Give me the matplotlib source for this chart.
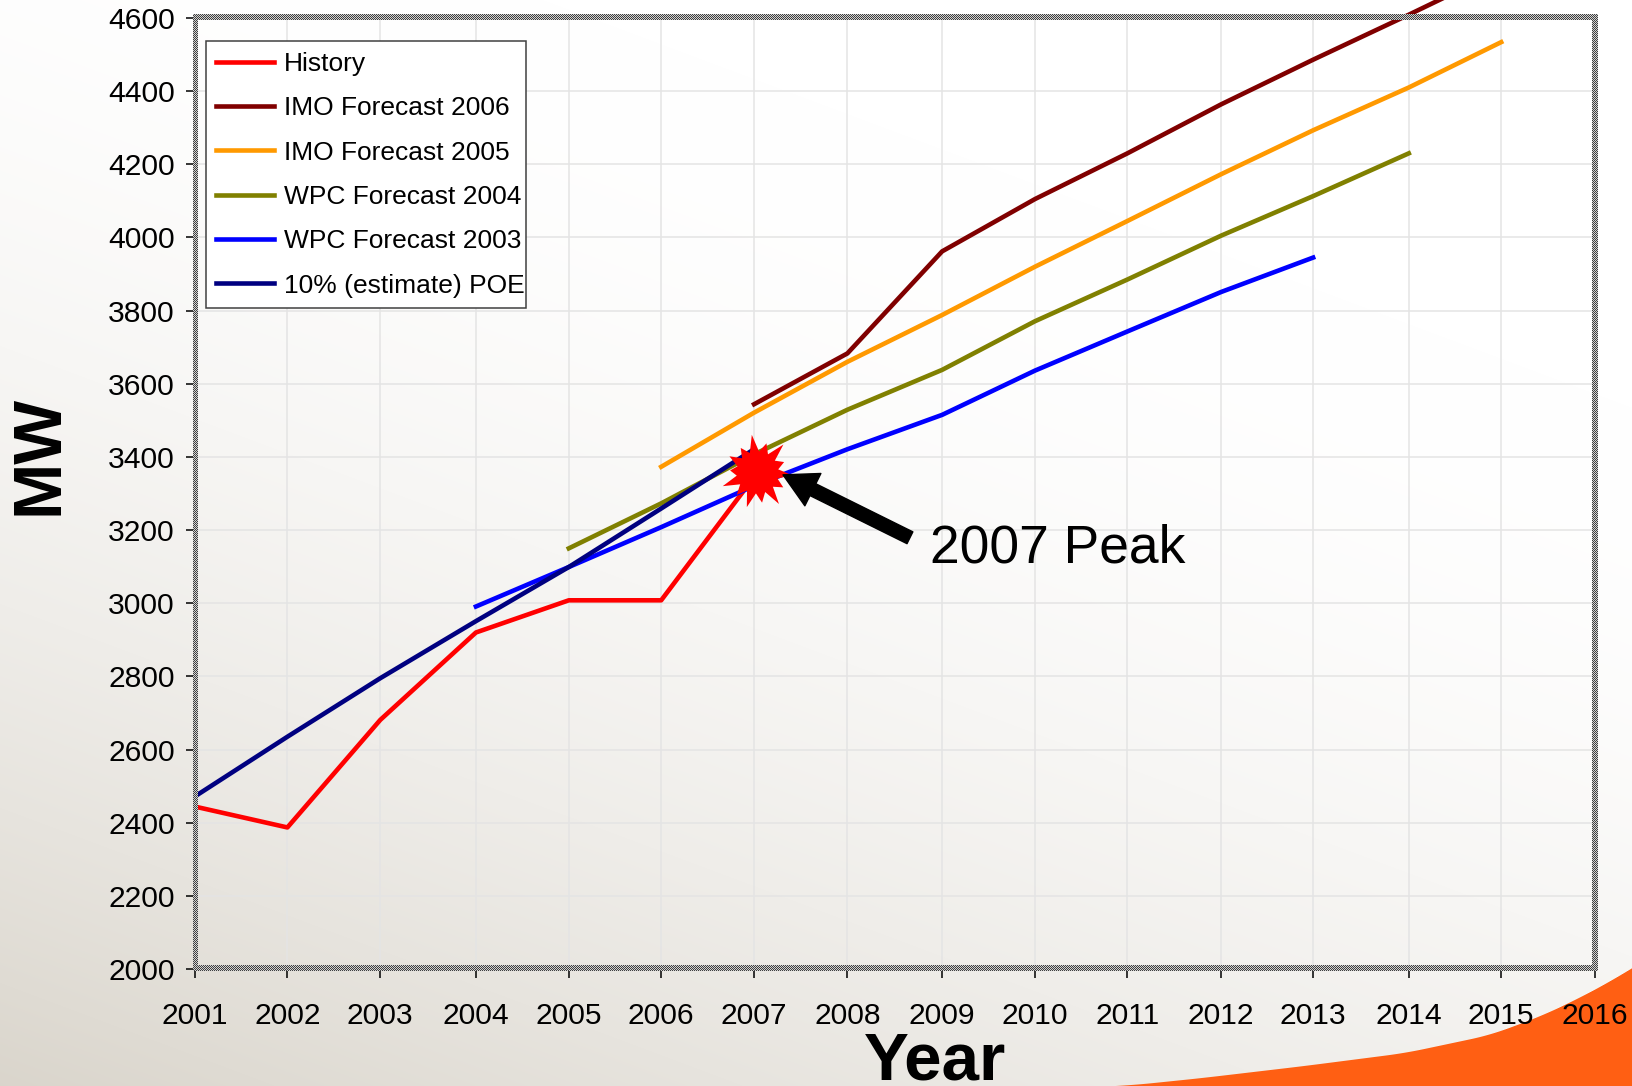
import numpy as np
import matplotlib
matplotlib.use("Agg")
import matplotlib.pyplot as plt
from matplotlib.patches import Rectangle
from matplotlib.path import Path

# DATOS
tick_years = [2001, 2001.99, 2002.985, 2004.01, 2005.005, 2005.995, 2006.99, 2007.99,
              2009.005, 2010, 2010.99, 2011.995, 2012.98, 2014.005, 2014.995, 2016]
tick_labels = [str(a) for a in range(2001, 2017)]
y_ticks = list(range(2000, 4601, 200))

history = [2444, 2387, 2681, 2920, 3008, 3008, 3345]
imo_2006 = [3544, 3683, 3962, 4105, 4230, 4364, 4486, 4609, 4731]
imo_2005 = [3373, 3521, 3660, 3788, 3920, 4045, 4173, 4293, 4410, 4534]
wpc_2004 = [3150, 3273, 3407, 3529, 3638, 3771, 3885, 4005, 4113, 4230]
wpc_2003 = [2991, 3099, 3208, 3321, 3421, 3515, 3636, 3743, 3851, 3945]
poe_10 = [2472, 2635, 2795, 2951, 3099, 3259, 3421]

peak_x = 2007.02
peak_y = 3360

W, H = 1632, 1086
L, R, T, B = 195, 1595, 18, 969

# FONDO
yy, xx = np.mgrid[0:H, 0:W]
t = np.clip((yy / H) * 0.8 + (1 - xx / W) * 0.45 - 0.3, 0, 1) ** 1.8
blanco = np.array([1.0, 1.0, 1.0])
beige = np.array([0.84, 0.82, 0.78])
fondo = blanco + (beige - blanco) * t[..., None]

# curva naranja de abajo a la derecha
curva_x = [1040, 1134, 1202, 1304, 1405, 1490, 1541, 1575, 1609, 1632, 1660]
curva_y = [1089, 1084, 1077, 1065, 1052, 1034, 1015, 999, 981, 967, 950]
todas_x = np.arange(W + 40)
perfil = np.interp(todas_x, curva_x, curva_y, left=1100)
perfil = np.convolve(np.pad(perfil, 20, mode="edge"), np.ones(41) / 41, mode="valid")
borde = perfil[xx]
alfa = np.clip(yy - borde, 0, 1)[..., None]
fondo = fondo * (1 - alfa) + np.array([1.0, 0.376, 0.075]) * alfa

# MARCO A CUADROS
marco = np.zeros((H, W, 4))
mascara = np.zeros((H, W), dtype=bool)
mascara[14:20, 193:1598] = True
mascara[965:971, 193:1598] = True
mascara[14:971, 193:198] = True
mascara[14:971, 1592:1598] = True
cuadros = ((xx + yy) % 2 == 0)
marco[..., :3] = np.where(cuadros[..., None], 0.25, 0.82)
marco[..., 3] = mascara

plt.rcParams["font.family"] = ["Liberation Sans", "DejaVu Sans"]

fig = plt.figure(figsize=(W / 100, H / 100), dpi=100)
fig.figimage(fondo, 0, 0, origin="upper", zorder=-5)
ax = fig.add_axes([L / W, (H - B) / H, (R - L) / W, (B - T) / H])
ax.patch.set_visible(False)

ax.plot(tick_years[:7], history, color="#ff0000", lw=3.3, label="History", zorder=3)
ax.plot(tick_years[6:15], imo_2006, color="#800000", lw=3.3, label="IMO Forecast 2006", zorder=3, clip_on=False)
ax.plot(tick_years[5:15], imo_2005, color="#ff9900", lw=3.3, label="IMO Forecast 2005", zorder=3)
ax.plot(tick_years[4:14], wpc_2004, color="#808000", lw=3.3, label="WPC Forecast 2004", zorder=3)
ax.plot(tick_years[3:13], wpc_2003, color="#0000ff", lw=3.3, label="WPC Forecast 2003", zorder=3)
ax.plot(tick_years[:7], poe_10, color="#000080", lw=3.3, label="10% (estimate) POE", zorder=3)

ax.set_xlim(2001, 2016)
ax.set_ylim(2000, 4600)
ax.set_xticks(tick_years)
ax.set_xticklabels(tick_labels)
ax.set_yticks(y_ticks)
ax.tick_params(axis="both", labelsize=21.6, length=6.5, width=1.1, color="black")
ax.tick_params(axis="x", pad=17.5)
ax.tick_params(axis="y", pad=8)
ax.grid(True, color="#e4e4e4", lw=1.1)
ax.set_axisbelow(True)
for lado in ax.spines.values():
    lado.set_visible(False)

# Pico de 2007: estrella irregular de 14 puntas
radios = [1.0, 0.55, 0.78, 0.55, 0.85, 0.55, 0.72, 0.55, 0.98, 0.55, 0.8, 0.55, 0.95, 0.55,
          0.8, 0.55, 1.0, 0.55, 0.78, 0.55, 0.9, 0.55, 0.75, 0.55, 1.0, 0.55, 0.8, 0.55]
angulos = np.pi / 2 + 0.15 + np.arange(len(radios)) * 2 * np.pi / len(radios)
vertices = np.column_stack([np.cos(angulos) * radios, np.sin(angulos) * radios])
estrella = Path(np.vstack([vertices, vertices[0]]), closed=True)
ax.plot([peak_x], [peak_y], marker=estrella, markersize=46 * 1.18, color="#ff0000", mew=0, zorder=5, ls="none")
ax.annotate("", xy=(2007.30, 3351), xytext=(2008.66, 3179),
            arrowprops=dict(facecolor="black", edgecolor="black", width=9.5, headwidth=26, headlength=24, shrink=0),
            zorder=6)
ax.text(2008.87, 3150, "2007 Peak", fontsize=38.4, va="center", ha="left", color="black", zorder=6)

# caja de la leyenda aparte: el texto casi toca el borde derecho
caja = Rectangle((206 / W, 1 - 308 / H), 320 / W, 266.5 / H, transform=fig.transFigure,
                 facecolor="white", edgecolor="#404040", lw=1.1, zorder=6)
ax.add_patch(caja)
caja.set_clip_on(False)
leyenda = ax.legend(loc="upper left", bbox_to_anchor=((215.5 - L) / (R - L), (T - 52) / (B - T) + 1),
                    borderaxespad=0, fontsize=19, frameon=False, handlelength=2.2, handletextpad=0.38,
                    labelspacing=0.77, borderpad=0)
leyenda.set_zorder(7)

fig.text(935 / W, 1 - 1062 / H, "Year", fontsize=48.5, fontweight="bold", ha="center", va="center", color="black")
fig.text(40 / W, 1 - 455 / H, "MW", fontsize=48.7, fontweight="bold", rotation=90, ha="center", va="center", color="black")

fig.figimage(marco, 0, 0, origin="upper", zorder=1)

fig.savefig("out.png", dpi=100)
